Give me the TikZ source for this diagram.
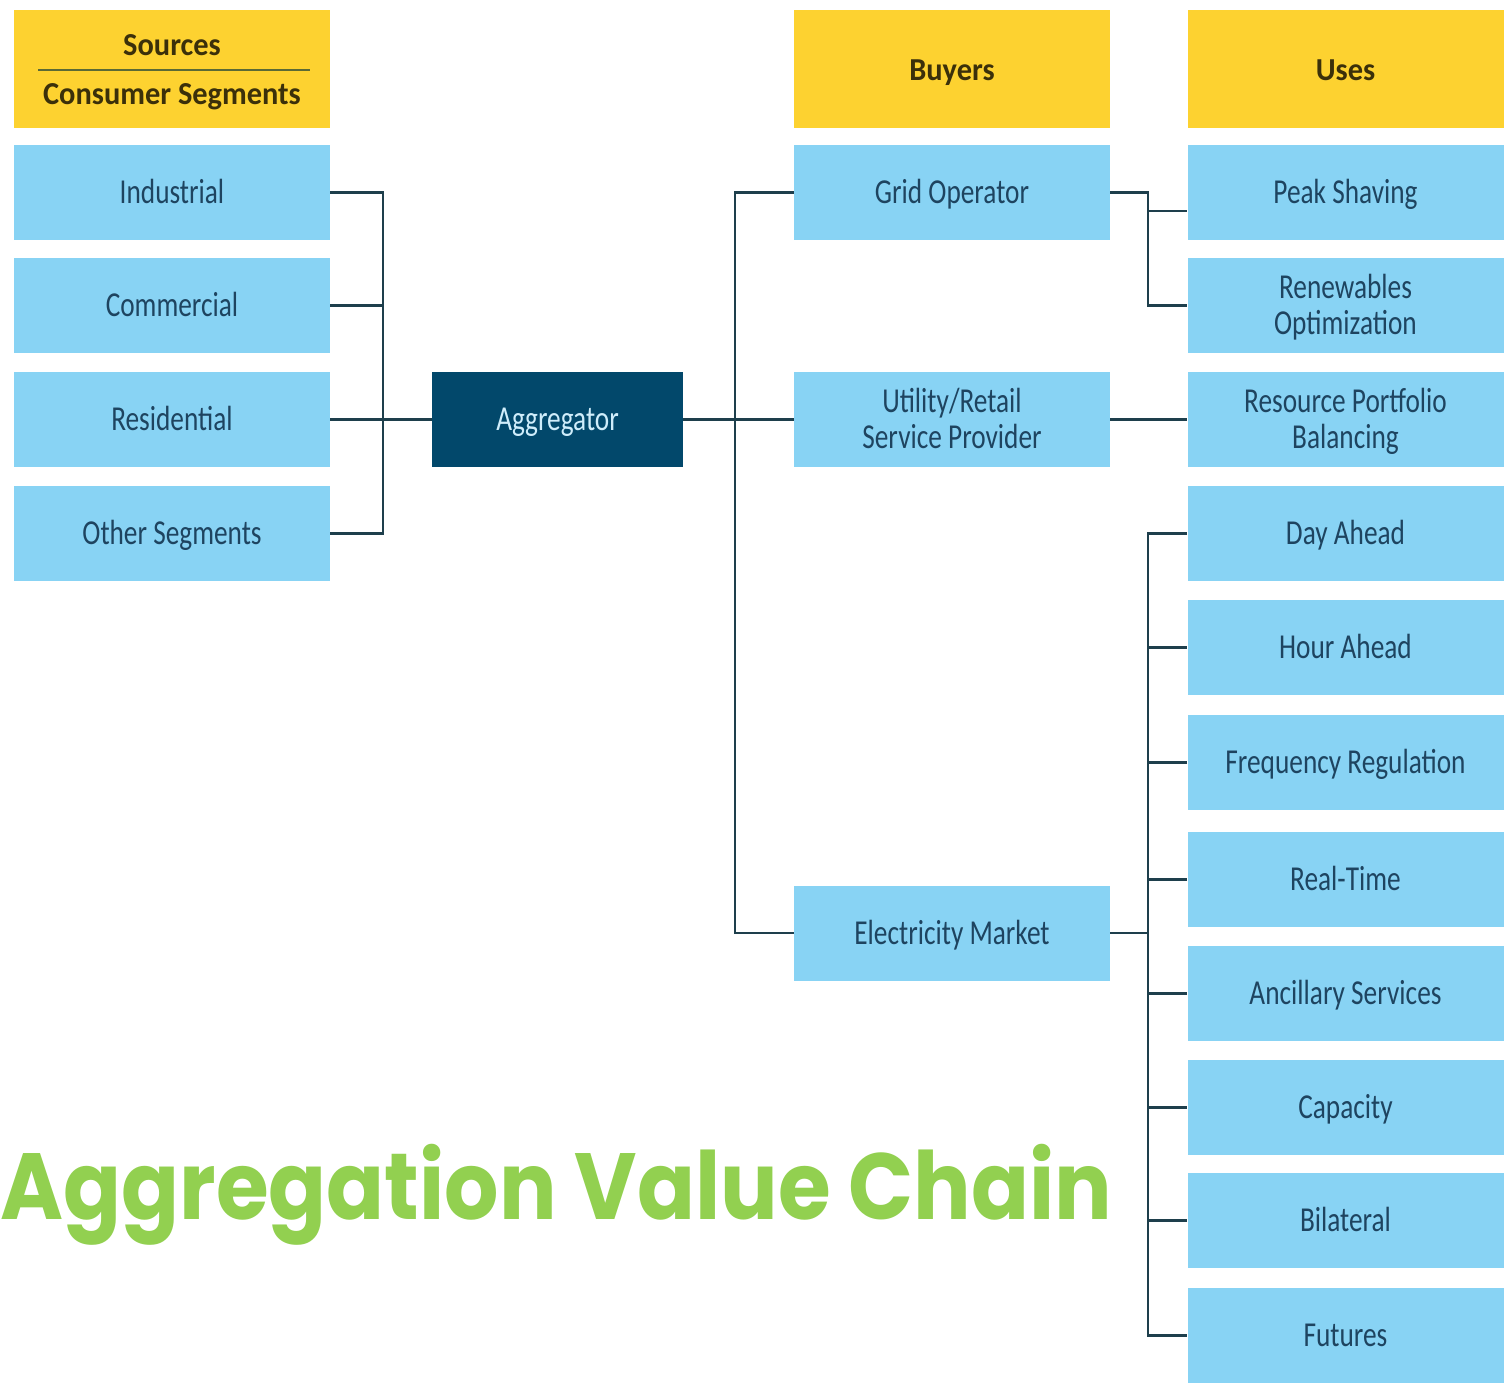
\documentclass[tikz,border=0pt]{standalone}
\usepackage{fontspec}
\usepackage{graphicx}
\setmainfont{Carlito}
\newfontfamily\titlefont{Poppins}
\definecolor{boxblue}{HTML}{88D3F4}
\definecolor{hdryellow}{HTML}{FDD230}
\definecolor{aggnavy}{HTML}{02486B}
\definecolor{linecol}{HTML}{1E3F4C}
\definecolor{bodytext}{HTML}{1E4460}
\definecolor{hdrtext}{HTML}{3B300A}
\definecolor{titlegreen}{HTML}{92D050}
\definecolor{divider}{HTML}{5A6A35}
\newcommand{\sq}[1]{\raisebox{-2pt}[\height][\depth]{\scalebox{0.78}[1]{\begin{tabular}{@{}c@{}}#1\end{tabular}}}}
\newcommand{\hq}[1]{\raisebox{-2pt}[\height][\depth]{\scalebox{0.95}[1]{\begin{tabular}{@{}c@{}}#1\end{tabular}}}}
\newcommand{\titletext}{\titlefont\bfseries\fontsize{47}{52}\selectfont Aggregation Value Chain}
\newlength{\titlewd}
\settowidth{\titlewd}{\titletext}
\begin{document}
\begin{tikzpicture}[x=0.5pt,y=-0.5pt,
  item/.style={rectangle,fill=boxblue,draw=none,minimum width=158pt,minimum height=47.5pt,inner sep=0pt,
    text=bodytext,font=\fontsize{17.5}{18}\selectfont},
  hdr/.style={rectangle,fill=hdryellow,draw=none,minimum width=158pt,minimum height=59pt,inner sep=0pt,
    text=hdrtext,font=\fontsize{16}{18}\selectfont\bfseries},
  agg/.style={rectangle,fill=aggnavy,draw=none,minimum width=125.5pt,minimum height=47.5pt,inner sep=0pt,
    text=boxblue!40!white,font=\fontsize{17.5}{18}\selectfont},
  conn/.style={draw=linecol,line width=1.4pt}]
\useasboundingbox (0,0) rectangle (1512,1383);
% headers
\node[hdr] (hsrc) at (172,69) {};
\node[text=hdrtext,font=\fontsize{16}{18}\selectfont\bfseries] (tsrc) at (172,44) {\hq{Sources}};
\node[text=hdrtext,font=\fontsize{16}{18}\selectfont\bfseries] (tcons) at (172,93) {\hq{Consumer Segments}};
\coordinate (dl) at (38,70);
\coordinate (dr) at (310,70);
\draw[draw=divider,line width=1.4pt] (dl) -- (dr);
\node[hdr] (hbuy) at (952,69) {\hq{Buyers}};
\node[hdr] (huse) at (1345.5,69) {\hq{Uses}};
% sources
\node[item] (ind) at (172,192.5) {\sq{Industrial}};
\node[item] (com) at (172,305.5) {\sq{Commercial}};
\node[item] (res) at (172,419.5) {\sq{Residential}};
\node[item] (oth) at (172,533.5) {\sq{Other Segments}};
% aggregator
\node[agg] (agg) at (557.5,419.5) {\sq{Aggregator}};
% buyers
\node[item] (grid) at (952,192.5) {\sq{Grid Operator}};
\node[item] (uti) at (952,419.5) {\sq{Utility/Retail\\Service Provider}};
\node[item] (elec) at (952,933) {\sq{Electricity Market}};
% uses
\node[item] (peak) at (1345.5,192.5) {\sq{Peak Shaving}};
\node[item] (ren) at (1345.5,305.5) {\sq{Renewables\\Optimization}};
\node[item] (rpb) at (1345.5,419.5) {\sq{Resource Portfolio\\Balancing}};
\node[item] (day) at (1345.5,533.5) {\sq{Day Ahead}};
\node[item] (hour) at (1345.5,647.5) {\sq{Hour Ahead}};
\node[item] (freq) at (1345.5,762.5) {\sq{Frequency Regulation}};
\node[item] (real) at (1345.5,879.5) {\sq{Real-Time}};
\node[item] (anc) at (1345.5,993.5) {\sq{Ancillary Services}};
\node[item] (cap) at (1345.5,1107.5) {\sq{Capacity}};
\node[item] (bil) at (1345.5,1220.5) {\sq{Bilateral}};
\node[item] (fut) at (1345.5,1335.5) {\sq{Futures}};
% connectors left
\coordinate (jL) at (383,419.5);
\draw[conn] (ind.east) -| (jL) |- (oth.east);
\draw[conn] (com.east) -- (com.east -| jL);
\draw[conn] (res.east) -- (agg.west);
% connectors middle
\coordinate (jM) at (735,419.5);
\draw[conn] (agg.east) -- (uti.west);
\draw[conn] (grid.west) -| (jM) |- (elec.west);
% grid operator to uses
\coordinate (jG) at (1148,250);
\coordinate (pk) at (1148,211);
\draw[conn] (grid.east) -| (jG) |- (ren.west);
\draw[conn] (pk) -- (pk -| peak.west);
% utility to resource
\draw[conn] (uti.east) -- (rpb.west);
% electricity market to uses
\coordinate (jE) at (1148,933);
\draw[conn] (elec.east) -- (jE);
\draw[conn] (day.west) -| (jE) |- (fut.west);
\foreach \n in {hour,freq,real,anc,cap,bil}{
  \draw[conn] (\n.west) -- (\n.west -| jE);
}
% title
\pgfmathsetmacro{\titlexs}{556/\titlewd}
\node[anchor=base west,inner sep=0pt,text=titlegreen] (title) at (0,1219)
  {\scalebox{\titlexs}[1]{\titletext}};
\end{tikzpicture}
\end{document}
